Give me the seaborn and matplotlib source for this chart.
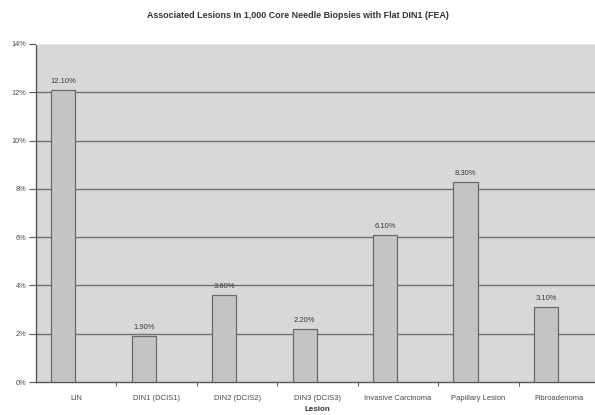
import matplotlib
matplotlib.use("Agg")
import matplotlib.pyplot as plt
import seaborn as sns
import pandas as pd
import numpy as np

lesions = ["LIN", "DIN1 (DCIS1)", "DIN2 (DCIS2)", "DIN3 (DCIS3)",
           "Invasive Carcinoma", "Papillary Lesion", "Fibroadenoma"]
percent = [12.10, 1.90, 3.60, 2.20, 6.10, 8.30, 3.10]
y_ticks = [0, 2, 4, 6, 8, 10, 12, 14]

df = pd.DataFrame({"Lesion": lesions, "Percent": percent})

sns.set_style("white")
plt.rcParams["font.family"] = ["Liberation Sans", "DejaVu Sans"]

W, H = 595, 415
fig = plt.figure(figsize=(W / 100, H / 100), dpi=100)
fig.patch.set_facecolor("white")
ax = fig.add_axes([36 / W, (H - 382) / H, 563 / W, 338 / H])
ax.set_facecolor("#d8d8d8")

sns.barplot(data=df, x="Lesion", y="Percent", ax=ax, width=0.3,
            color="#c4c4c4", edgecolor="#6a6a6a", linewidth=0.9,
            saturation=1, zorder=3)

# bars sit left of each category's centre
shift = -0.16
for p in ax.patches:
    p.set_x(p.get_x() + shift)

for i, v in enumerate(percent):
    ax.text(i + shift, v + 0.2, f"{v:.2f}%", ha="center", va="bottom",
            fontsize=5.5, color="#3a3a3a", zorder=4)

ax.set_xlim(-0.5, 6.5)
ax.set_ylim(0, 14)
ax.set_yticks(y_ticks)
ax.set_yticklabels([f"{t}%" for t in y_ticks], fontsize=5.3, color="#4a4a4a")
for t in y_ticks[1:-1]:
    ax.axhline(t, color="#707070", linewidth=1.0, zorder=1)

ax.set_xticks(range(len(lesions)))
ax.set_xticklabels(lesions, fontsize=5.5, color="#4a4a4a")
ax.set_xticks(np.arange(len(lesions)) + 0.5, minor=True)
ax.tick_params(axis="x", which="major", length=0, pad=9)
ax.tick_params(axis="x", which="minor", length=3, width=0.7, color="#555555",
               direction="out", bottom=True)
ax.tick_params(axis="y", length=5, width=0.8, color="#555555",
               direction="out", left=True, pad=2)

for side in ["left", "bottom"]:
    ax.spines[side].set_color("#555555")
    ax.spines[side].set_linewidth(1.0)
for side in ["top", "right"]:
    ax.spines[side].set_color("#e6e6e6")
    ax.spines[side].set_linewidth(0.8)

ax.set_ylabel("")
ax.set_xlabel("Lesion", fontsize=5.8, fontweight="bold", color="#333333",
              labelpad=3)

fig.text(298 / W, 1 - 15 / H,
         "Associated Lesions In 1,000 Core Needle Biopsies with Flat DIN1 (FEA)",
         ha="center", va="center", fontsize=6.4, fontweight="bold",
         color="#333333")

fig.savefig("out.png", dpi=100, facecolor="white")
